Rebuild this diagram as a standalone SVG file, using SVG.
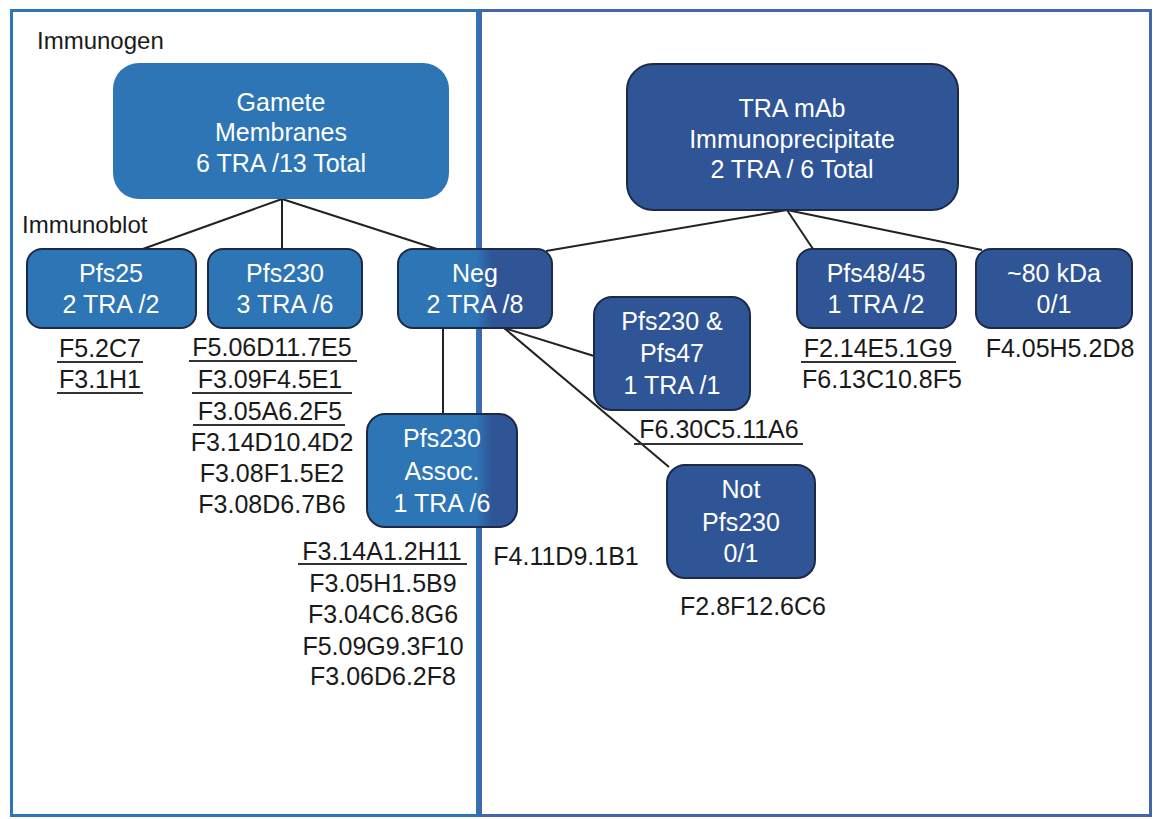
<svg xmlns="http://www.w3.org/2000/svg" width="1153" height="819" viewBox="0 0 1153 819">
<style>
text{font-family:"Liberation Sans",Arial,sans-serif;font-size:25px}
.bt{fill:#ffffff;text-anchor:middle}
.lb{fill:#1a1a1a;text-anchor:middle}
.hd{fill:#1a1a1a;font-size:24px}
.mid{fill:#2e75b6}
.dark{fill:#2f5597}
.bx{stroke:#1c2a48;stroke-width:2}
.ul{stroke:#333;stroke-width:2}
.con line{stroke:#222;stroke-width:2}
</style>
<defs>
<linearGradient id="split" gradientUnits="userSpaceOnUse" x1="476" y1="0" x2="492" y2="0">
<stop offset="0" stop-color="#2e75b6"/>
<stop offset="1" stop-color="#2f5597"/>
</linearGradient>
</defs>
<rect width="1153" height="819" fill="#ffffff"/>
<g id="panels">
<rect x="11.5" y="10.5" width="466" height="805" fill="none" stroke="#2e75b6" stroke-width="3"/>
<rect x="480.5" y="10.5" width="670" height="805" fill="none" stroke="#4565ac" stroke-width="3"/>
</g>
<text class="hd" x="37" y="49">Immunogen</text>
<text class="hd" x="22" y="233">Immunoblot</text>
<g class="con" id="connectors">
<line x1="282" y1="199" x2="140" y2="250"/>
<line x1="282" y1="199" x2="282" y2="249"/>
<line x1="282" y1="199" x2="440" y2="250"/>
<line x1="787" y1="210" x2="546" y2="251"/>
<line x1="787" y1="210" x2="813" y2="249"/>
<line x1="787" y1="210" x2="982" y2="250"/>
<line x1="443" y1="329" x2="443" y2="414"/>
<line x1="504" y1="328" x2="594" y2="356"/>
<line x1="504" y1="328" x2="669" y2="467"/>
</g>
<g id="gamete">
<rect class="mid" x="113" y="63" width="336" height="136" rx="26"/>
<text class="bt" x="281" y="111">Gamete</text>
<text class="bt" x="281" y="141">Membranes</text>
<text class="bt" x="281" y="172">6 TRA /13 Total</text>
</g>
<g id="tramab">
<rect class="dark bx" x="627" y="64" width="331" height="146" rx="26"/>
<text class="bt" x="792" y="117">TRA mAb</text>
<text class="bt" x="792" y="148">Immunoprecipitate</text>
<text class="bt" x="792" y="178">2 TRA / 6 Total</text>
</g>
<g id="pfs25">
<rect class="mid bx" x="27" y="249" width="169" height="79" rx="15"/>
<text class="bt" x="111" y="282">Pfs25</text>
<text class="bt" x="111" y="313">2 TRA /2</text>
</g>
<g id="pfs230">
<rect class="mid bx" x="208" y="249" width="154" height="79" rx="15"/>
<text class="bt" x="285" y="282">Pfs230</text>
<text class="bt" x="285" y="313">3 TRA /6</text>
</g>
<g id="neg">
<rect class="bx" fill="url(#split)" x="398" y="249" width="154" height="79" rx="15"/>
<text class="bt" x="475" y="282">Neg</text>
<text class="bt" x="475" y="313">2 TRA /8</text>
</g>
<g id="pfs230assoc">
<rect class="bx" fill="url(#split)" x="367" y="414" width="150" height="113" rx="18"/>
<text class="bt" x="442" y="447">Pfs230</text>
<text class="bt" x="442" y="480">Assoc.</text>
<text class="bt" x="442" y="512">1 TRA /6</text>
</g>
<g id="pfs230pfs47">
<rect class="dark bx" x="594" y="297" width="156" height="113" rx="18"/>
<text class="bt" x="672" y="330">Pfs230 &amp;</text>
<text class="bt" x="672" y="362">Pfs47</text>
<text class="bt" x="672" y="394">1 TRA /1</text>
</g>
<g id="notpfs230">
<rect class="dark bx" x="667" y="465" width="148" height="113" rx="18"/>
<text class="bt" x="741" y="498">Not</text>
<text class="bt" x="741" y="531">Pfs230</text>
<text class="bt" x="741" y="562">0/1</text>
</g>
<g id="pfs4845">
<rect class="dark bx" x="797" y="249" width="159" height="79" rx="15"/>
<text class="bt" x="876" y="282">Pfs48/45</text>
<text class="bt" x="876" y="313">1 TRA /2</text>
</g>
<g id="kda80">
<rect class="dark bx" x="976" y="249" width="156" height="79" rx="15"/>
<text class="bt" x="1054" y="282">~80 kDa</text>
<text class="bt" x="1054" y="313">0/1</text>
</g>
<g id="labels">
<text class="lb" x="100" y="357">F5.2C7</text>
<line class="ul" x1="57" y1="362" x2="143" y2="362"/>
<text class="lb" x="100" y="388">F3.1H1</text>
<line class="ul" x1="57" y1="393" x2="143" y2="393"/>
<text class="lb" x="272" y="356">F5.06D11.7E5</text>
<line class="ul" x1="189" y1="361" x2="357" y2="361"/>
<text class="lb" x="270" y="388">F3.09F4.5E1</text>
<line class="ul" x1="192" y1="393" x2="352" y2="393"/>
<text class="lb" x="270" y="420">F3.05A6.2F5</text>
<line class="ul" x1="193" y1="425" x2="345" y2="425"/>
<text class="lb" x="272" y="451">F3.14D10.4D2</text>
<text class="lb" x="272" y="482">F3.08F1.5E2</text>
<text class="lb" x="272" y="513">F3.08D6.7B6</text>
<text class="lb" x="382" y="560">F3.14A1.2H11</text>
<line class="ul" x1="298" y1="564" x2="467" y2="564"/>
<text class="lb" x="383" y="592">F3.05H1.5B9</text>
<text class="lb" x="383" y="623">F3.04C6.8G6</text>
<text class="lb" x="383" y="655">F5.09G9.3F10</text>
<text class="lb" x="383" y="685">F3.06D6.2F8</text>
<text class="lb" x="566" y="565">F4.11D9.1B1</text>
<text class="lb" x="719" y="438">F6.30C5.11A6</text>
<line class="ul" x1="634" y1="444" x2="803" y2="444"/>
<text class="lb" x="878" y="357">F2.14E5.1G9</text>
<line class="ul" x1="801" y1="362" x2="956" y2="362"/>
<text class="lb" x="882" y="388">F6.13C10.8F5</text>
<text class="lb" x="1060" y="357">F4.05H5.2D8</text>
<text class="lb" x="753" y="615">F2.8F12.6C6</text>
</g>
</svg>
